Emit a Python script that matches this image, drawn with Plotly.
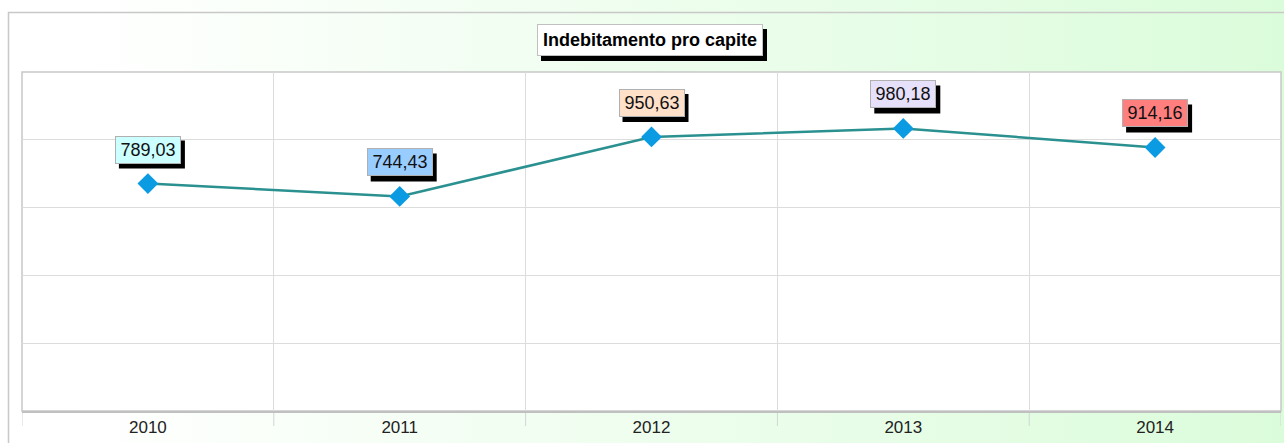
import base64
import plotly.graph_objects as go

years = ["2010", "2011", "2012", "2013", "2014"]
values = [789.03, 744.43, 950.63, 980.18, 914.16]
labels = ["789,03", "744,43", "950,63", "980,18", "914,16"]
label_colors = ["#ccffff", "#99ccff", "#ffe0c8", "#e6e0fa", "#ff7f7f"]
title_text = "Indebitamento pro capite"

W, H = 1284, 443
ML, MR, MT, MB = 22, 3, 72, 32
PW = W - ML - MR
PH = H - MT - MB

svg = (
    '<svg xmlns="http://www.w3.org/2000/svg" width="1284" height="443">'
    '<defs><linearGradient id="g" x1="0" y1="0" x2="1" y2="0">'
    '<stop offset="0.06" stop-color="#ffffff"/>'
    '<stop offset="1" stop-color="#dbfcdb"/>'
    '</linearGradient></defs>'
    '<rect width="1284" height="443" fill="url(#g)"/></svg>'
)
src = "data:image/svg+xml;base64," + base64.b64encode(svg.encode()).decode()

fig = go.Figure()
fig.add_trace(go.Scatter(
    x=years, y=values, mode="lines+markers",
    line=dict(color="#2b9090", width=2.5),
    marker=dict(symbol="diamond", size=16, color="#0b9be3",
                line=dict(width=0)),
    hoverinfo="skip", showlegend=False,
))

FONT = "Liberation Sans, Arial"
shapes = []

LW, LH, LSHIFT = 62, 24, 20  # label text area, offset above marker
for i, (v, t, c) in enumerate(zip(values, labels, label_colors)):
    tw, th = LW + 4, LH + 4
    shapes.append(dict(type="rect", xref="x", yref="y", xsizemode="pixel",
                       ysizemode="pixel", xanchor=i, yanchor=v,
                       x0=-tw / 2 + 4, x1=tw / 2 + 4,
                       y0=LSHIFT - 5, y1=LSHIFT - 5 + th,
                       fillcolor="#000000", line=dict(width=0), layer="above"))
    fig.add_annotation(x=i, y=v, text=t, showarrow=False, xanchor="center",
                       yanchor="bottom", yshift=LSHIFT,
                       font=dict(family=FONT, size=18, color="#111111"),
                       bgcolor=c, bordercolor="#b0b0b0",
                       borderwidth=1, borderpad=1, width=LW, height=LH)

# title box with shadow
tx = (650 - ML) / PW
ty = (H - MB - 40) / PH
TW, TH = 222, 28
shapes.append(dict(type="rect", xref="paper", yref="paper", xsizemode="pixel",
                   ysizemode="pixel", xanchor=tx, yanchor=ty,
                   x0=-(TW + 4) / 2 + 4, x1=(TW + 4) / 2 + 4,
                   y0=-(TH + 4) / 2 - 5, y1=(TH + 4) / 2 - 5,
                   fillcolor="#000000", line=dict(width=0), layer="above"))
fig.add_annotation(xref="paper", yref="paper", x=tx, y=ty,
                   text="<b>" + title_text + "</b>",
                   showarrow=False, xanchor="center", yanchor="middle",
                   font=dict(family=FONT, size=18, color="#000000"),
                   bgcolor="#ffffff", bordercolor="#c0c0c0", borderwidth=1,
                   borderpad=1, width=TW, height=TH)

# outer frame
shapes.append(dict(type="rect", xref="paper", yref="paper",
                   x0=(8.5 - ML) / PW, x1=1.5, y0=-0.5, y1=(H - MB - 12.5) / PH,
                   line=dict(color="#c8c8c8", width=1.5), fillcolor="rgba(0,0,0,0)",
                   layer="below"))
# plot area
shapes.append(dict(type="rect", xref="paper", yref="paper", x0=0, x1=1, y0=0, y1=1,
                   line=dict(color="#c8c8c8", width=1.5), fillcolor="#ffffff",
                   layer="below"))
# tick extensions at category boundaries
for i in range(len(years) + 1):
    shapes.append(dict(type="line", xref="x", yref="paper",
                       x0=i - 0.5, x1=i - 0.5, y0=0, y1=-15 / PH,
                       line=dict(color="#d4d4d4", width=1), layer="below"))

fig.update_layout(
    width=W, height=H,
    margin=dict(l=ML, r=MR, t=MT, b=MB),
    paper_bgcolor="#ffffff", plot_bgcolor="rgba(0,0,0,0)",
    images=[dict(source=src, xref="paper", yref="paper",
                 x=-ML / PW, y=1 + MT / PH, sizex=W / PW, sizey=H / PH,
                 sizing="stretch", xanchor="left", yanchor="top", layer="below")],
    shapes=shapes,
    xaxis=dict(type="category", range=[-0.5, len(years) - 0.5], tickson="boundaries",
               showgrid=True, gridcolor="#dcdcdc", gridwidth=1,
               ticks="", showline=True, linecolor="#c0c0c0", linewidth=1.5,
               tickfont=dict(family=FONT, size=17, color="#222222"),
               ticklabelstandoff=0, fixedrange=True),
    yaxis=dict(range=[0, 1176], dtick=235.2, tick0=0, showgrid=True, gridcolor="#dcdcdc",
               gridwidth=1, showticklabels=False, zeroline=False, ticks="",
               fixedrange=True),
)

fig.write_html("out.html", config={"displayModeBar": False},
               post_script="document.body.style.margin='0';document.body.style.overflow='hidden';")
